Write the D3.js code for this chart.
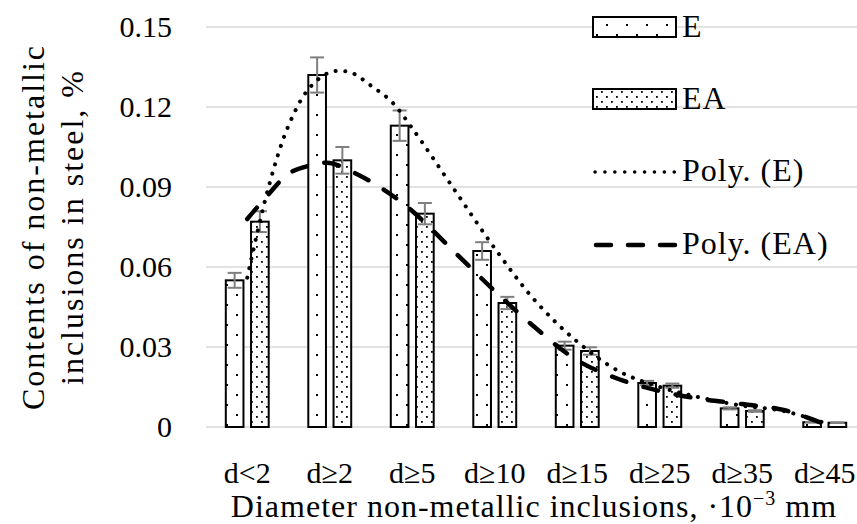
<!DOCTYPE html>
<html>
<head>
<meta charset="utf-8">
<script src="https://cdn.jsdelivr.net/npm/d3@7"></script>
<style>
    body { margin: 0; background: #fff; }
    text { font-family: "Liberation Serif", serif; fill: #000; }
</style>
</head>
<body>
<script>
const categories = ["d<2", "d≥2", "d≥5", "d≥10", "d≥15", "d≥25", "d≥35", "d≥45"];
const valuesE = [0.055, 0.132, 0.113, 0.066, 0.0305, 0.0165, 0.007, 0.0018];
const valuesEA = [0.077, 0.100, 0.080, 0.0465, 0.0285, 0.0155, 0.006, 0.0016];
const errE = [0.0028, 0.0066, 0.0057, 0.0033, 0.0015, 0.0008, 0.0004, 0.0001];
const errEA = [0.0039, 0.005, 0.004, 0.0023, 0.0014, 0.0008, 0.0003, 0.0001];
const yTicks = [0, 0.03, 0.06, 0.09, 0.12, 0.15];

// polynomial trendlines at category positions
const trendPos = [0, 0.25, 0.5, 0.75, 1, 1.25, 1.5, 1.75, 2, 2.5, 3, 3.5, 4, 4.5, 5, 5.5, 6, 6.5, 7];
const trendE = [0.056, 0.089, 0.113, 0.127, 0.133, 0.133, 0.128, 0.122, 0.112, 0.0895, 0.067, 0.047, 0.032, 0.021, 0.015, 0.011, 0.008, 0.006, 0.0015];
const trendEA = [0.078, 0.087, 0.095, 0.098, 0.099, 0.096, 0.092, 0.087, 0.081, 0.066, 0.051, 0.037, 0.025, 0.018, 0.0135, 0.0105, 0.0086, 0.0064, 0.0011];

const w = 857, h = 524;
const pLeft = 206, pRight = 866, pTop = 27, pBottom = 427;

const svg = d3.select("body")
    .append("svg")
    .attr("width", w)
    .attr("height", h);

const defs = svg.append("defs");
// sparse dots for E
let pE = defs.append("pattern")
    .attr("id", "dotsE")
    .attr("patternUnits", "userSpaceOnUse")
    .attr("width", 20).attr("height", 20);
pE.append("rect").attr("width", 20).attr("height", 20).attr("fill", "#fff");
pE.append("rect").attr("x", 6).attr("y", 4).attr("width", 2).attr("height", 2).attr("fill", "#000");
pE.append("rect").attr("x", 16).attr("y", 14).attr("width", 2).attr("height", 2).attr("fill", "#000");
// denser dots for EA
let pEA = defs.append("pattern")
    .attr("id", "dotsEA")
    .attr("patternUnits", "userSpaceOnUse")
    .attr("width", 10).attr("height", 10);
pEA.append("rect").attr("width", 10).attr("height", 10).attr("fill", "#fff");
pEA.append("rect").attr("x", 1).attr("y", 1).attr("width", 1.8).attr("height", 1.8).attr("fill", "#000");
pEA.append("rect").attr("x", 6).attr("y", 6).attr("width", 1.8).attr("height", 1.8).attr("fill", "#000");

const x0 = d3.scaleBand()
    .domain(categories)
    .range([pLeft, pRight])
    .paddingInner(0.48)
    .paddingOuter(0.24);
const x1 = d3.scaleBand()
    .domain(["E", "EA"])
    .range([0, x0.bandwidth()])
    .paddingInner(0.3);
const yScale = d3.scaleLinear()
    .domain([0, 0.15])
    .range([pBottom, pTop]);
const xTrend = d3.scaleLinear()
    .domain([0, categories.length - 1])
    .range([x0(categories[0]) + x0.bandwidth() / 2, x0(categories[categories.length - 1]) + x0.bandwidth() / 2]);

// gridlines
svg.selectAll(".grid")
    .data(yTicks)
    .enter()
    .append("line")
    .attr("x1", pLeft)
    .attr("x2", w + 20)
    .attr("y1", d => yScale(d))
    .attr("y2", d => yScale(d))
    .attr("stroke", "#d9d9d9")
    .attr("stroke-width", 1.5);

// y tick labels
svg.selectAll(".ylab")
    .data(yTicks)
    .enter()
    .append("text")
    .attr("x", 172)
    .attr("y", d => yScale(d))
    .attr("dy", "0.33em")
    .attr("text-anchor", "end")
    .style("font-size", "30px")
    .text(d => d === 0 ? "0" : d.toFixed(2));

const series = [
    { key: "E", values: valuesE, err: errE, fill: "url(#dotsE)" },
    { key: "EA", values: valuesEA, err: errEA, fill: "url(#dotsEA)" }
];

series.forEach(s => {
    svg.selectAll(".bar" + s.key)
        .data(s.values)
        .enter()
        .append("rect")
        .attr("x", (d, i) => x0(categories[i]) + x1(s.key))
        .attr("y", d => yScale(d))
        .attr("width", x1.bandwidth())
        .attr("height", d => pBottom - yScale(d))
        .attr("fill", s.fill)
        .attr("stroke", "#000")
        .attr("stroke-width", 2);
});

series.forEach(s => {
    const cx = i => x0(categories[i]) + x1(s.key) + x1.bandwidth() / 2;
    const g = svg.append("g")
        .attr("stroke", "#7f7f7f")
        .attr("stroke-width", 2);
    s.values.forEach((v, i) => {
        const yt = yScale(v + s.err[i]), yb = yScale(v - s.err[i]);
        g.append("line").attr("x1", cx(i)).attr("x2", cx(i)).attr("y1", yt).attr("y2", yb);
        g.append("line").attr("x1", cx(i) - 7).attr("x2", cx(i) + 7).attr("y1", yt).attr("y2", yt);
        g.append("line").attr("x1", cx(i) - 7).attr("x2", cx(i) + 7).attr("y1", yb).attr("y2", yb);
    });
});

// trendlines
const line = d3.line()
    .x((d, i) => xTrend(trendPos[i]))
    .y(d => yScale(d))
    .curve(d3.curveCatmullRom);

svg.append("path")
    .attr("d", line(trendE))
    .attr("fill", "none")
    .attr("stroke", "#000")
    .attr("stroke-width", 4)
    .attr("stroke-linecap", "round")
    .attr("stroke-dasharray", "0.1,9.6");

svg.append("path")
    .attr("d", line(trendEA))
    .attr("fill", "none")
    .attr("stroke", "#000")
    .attr("stroke-width", 4.5)
    .attr("stroke-linecap", "round")
    .attr("stroke-dasharray", "15,18");

// x tick labels
svg.selectAll(".xlab")
    .data(categories)
    .enter()
    .append("text")
    .attr("x", d => x0(d) + x0.bandwidth() / 2)
    .attr("y", 483)
    .attr("text-anchor", "middle")
    .style("font-size", "30px")
    .text(d => d);

// axis titles
let xt = svg.append("text")
    .attr("x", (pLeft + pRight) / 2 - 2)
    .attr("y", 517)
    .attr("text-anchor", "middle")
    .style("font-size", "32px")
    .style("letter-spacing", "1px");
xt.append("tspan").text("Diameter non-metallic inclusions, ·10");
xt.append("tspan").attr("dy", -12).style("font-size", "20px").text("−3");
xt.append("tspan").attr("dy", 12).text(" mm");

let yt = svg.append("text")
    .attr("transform", "translate(44," + ((pTop + pBottom) / 2) + ") rotate(-90)")
    .attr("text-anchor", "middle")
    .style("font-size", "32px")
    .style("letter-spacing", "2px");
yt.append("tspan").attr("x", 0).attr("y", 0).text("Contents of non-metallic");
yt.append("tspan").attr("x", 0).attr("y", 39).text("inclusions in steel, %");

// legend
const legX = 593, legW = 83;
const legend = svg.append("g");
[["E", "url(#dotsE)", 27], ["EA", "url(#dotsEA)", 99]].forEach(d => {
    legend.append("rect")
        .attr("x", legX).attr("y", d[2] - 10)
        .attr("width", legW).attr("height", 20)
        .attr("fill", d[1])
        .attr("stroke", "#000")
        .attr("stroke-width", 2);
    legend.append("text")
        .attr("x", legX + legW + 6).attr("y", d[2] + 10)
        .style("font-size", "32px")
        .style("letter-spacing", "1px")
        .text(d[0]);
});
legend.append("line")
    .attr("x1", legX + 2).attr("x2", legX + legW)
    .attr("y1", 172).attr("y2", 172)
    .attr("stroke", "#000").attr("stroke-width", 3.5)
    .attr("stroke-linecap", "round")
    .attr("stroke-dasharray", "0.1,9.8");
legend.append("text")
    .attr("x", legX + legW + 6).attr("y", 181)
    .style("font-size", "32px")
    .style("letter-spacing", "1px")
    .text("Poly. (E)");
legend.append("line")
    .attr("x1", legX + 3).attr("x2", legX + legW)
    .attr("y1", 245).attr("y2", 245)
    .attr("stroke", "#000").attr("stroke-width", 4.5)
    .attr("stroke-linecap", "round")
    .attr("stroke-dasharray", "15,17");
legend.append("text")
    .attr("x", legX + legW + 6).attr("y", 254)
    .style("font-size", "32px")
    .style("letter-spacing", "1px")
    .text("Poly. (EA)");
</script>
</body>
</html>
